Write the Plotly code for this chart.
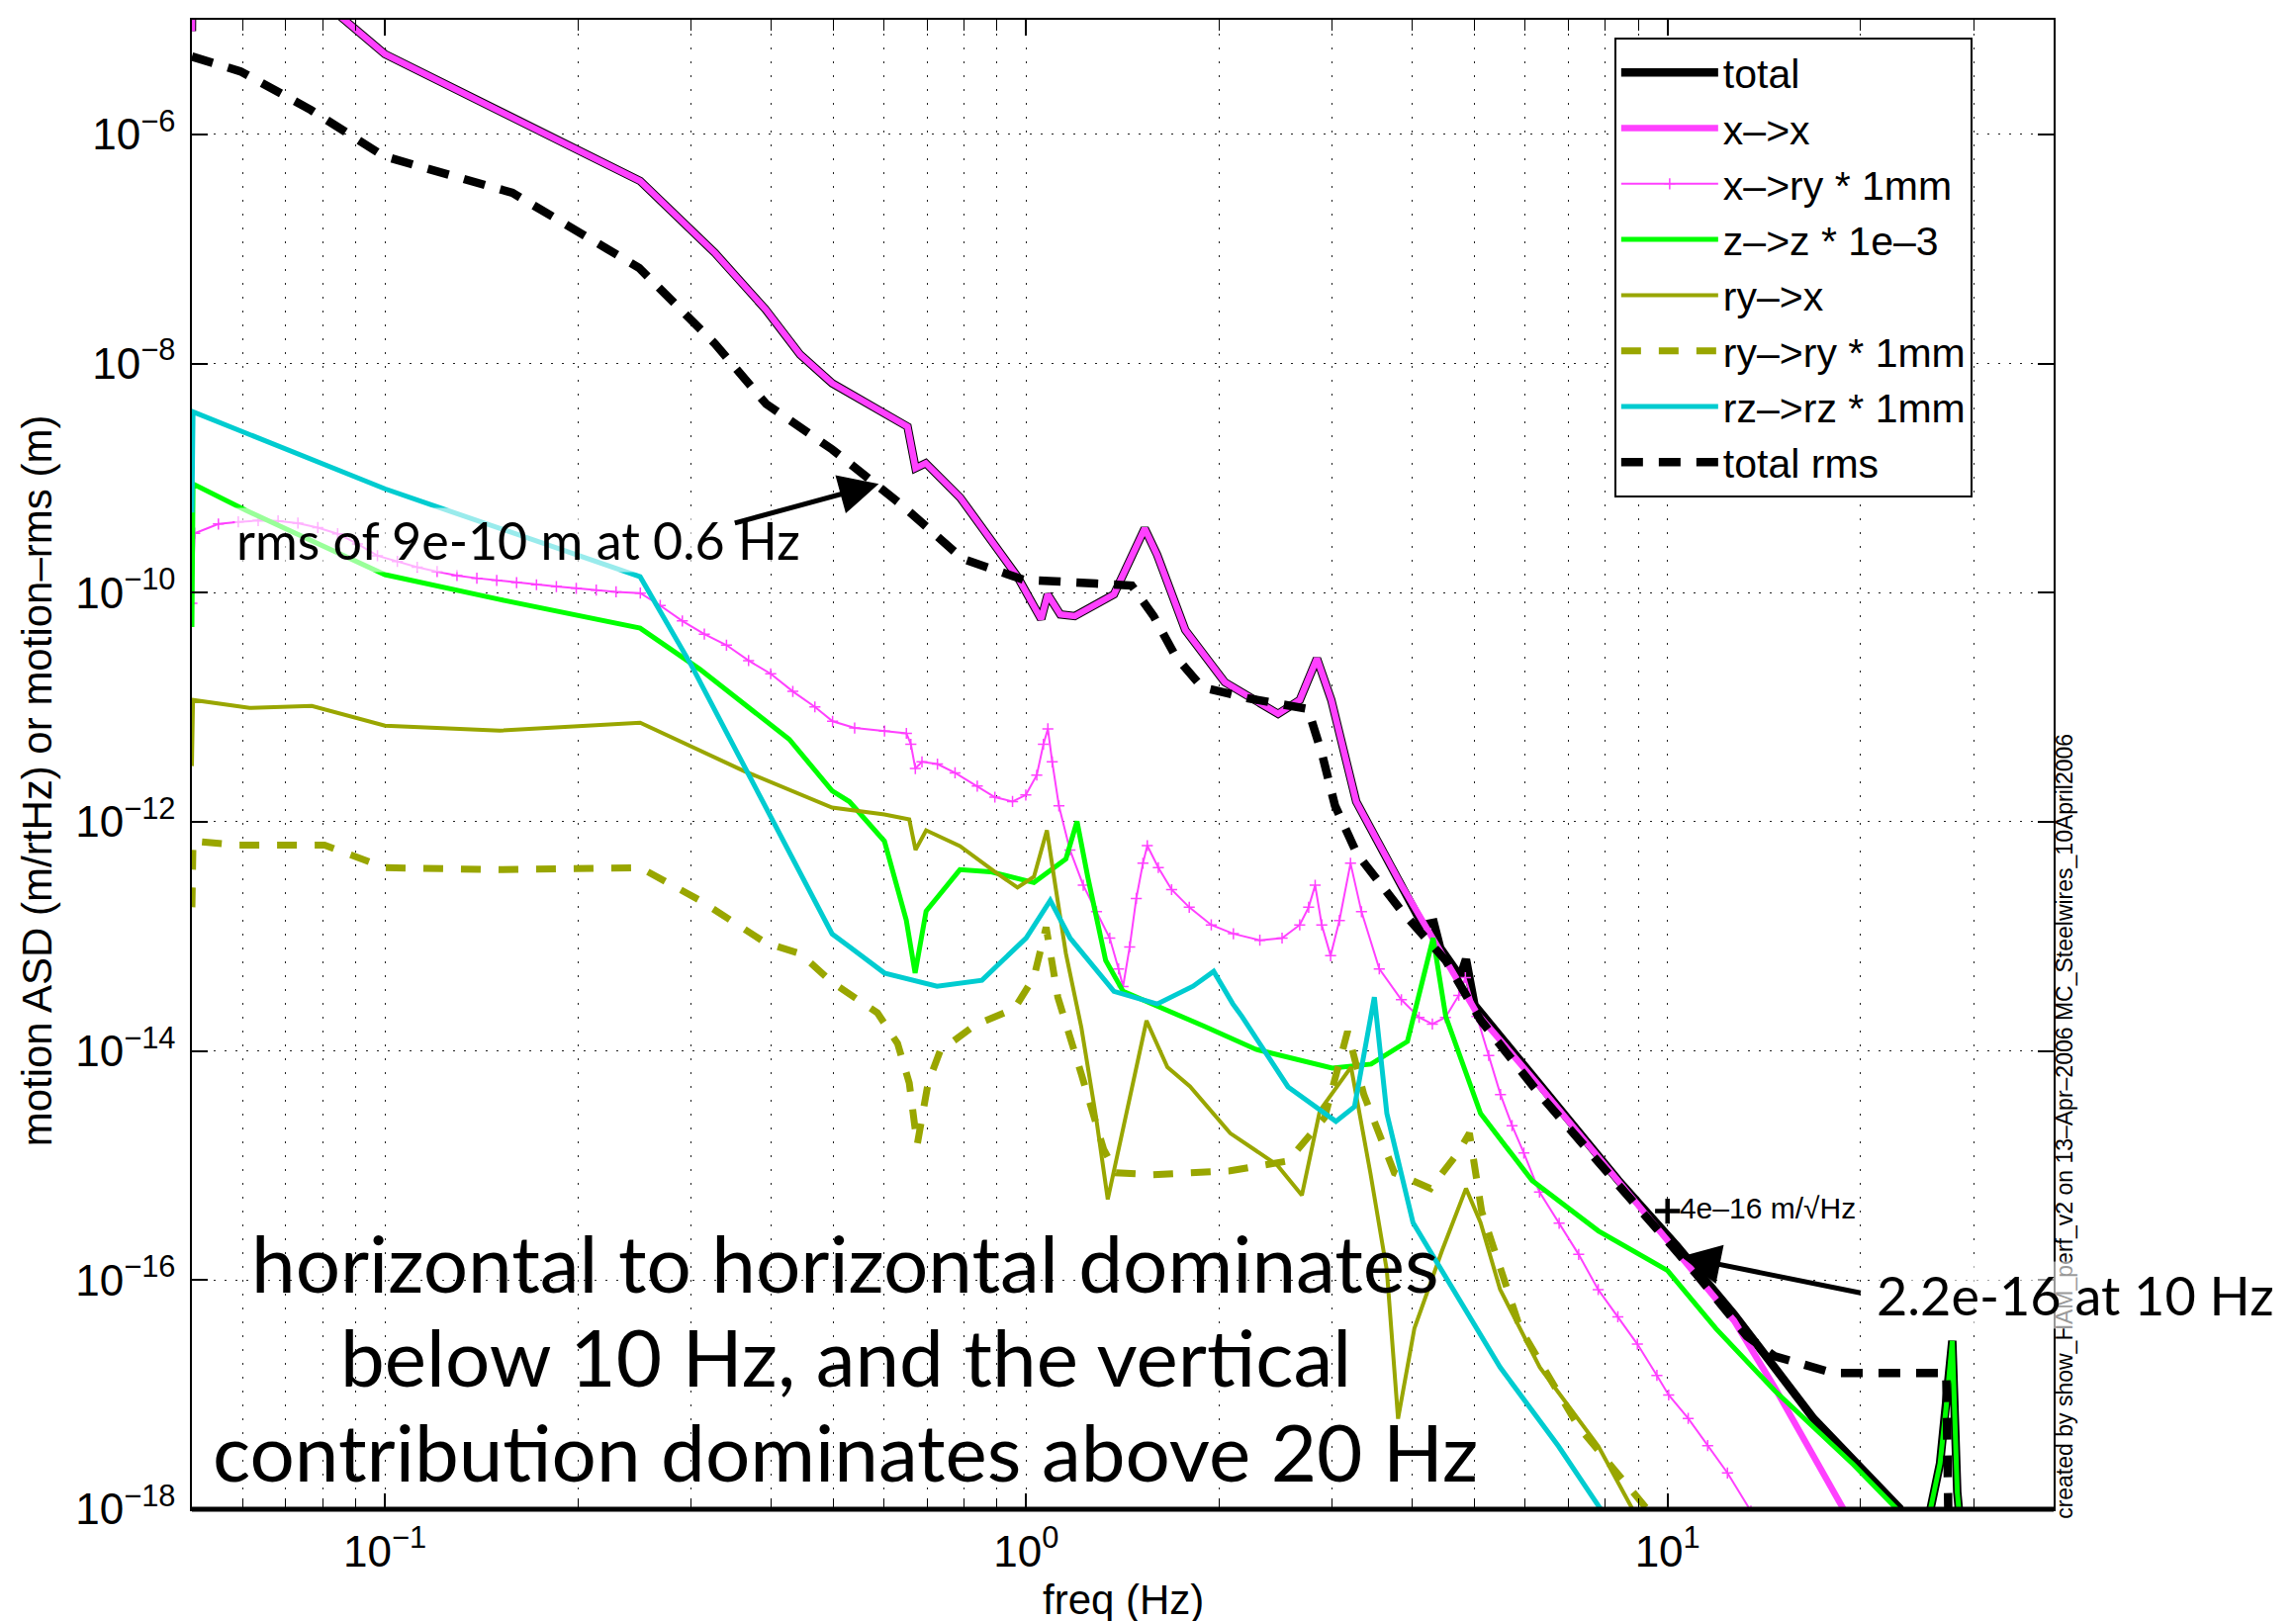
import plotly.graph_objects as go

# ---------------- data: frequency (Hz) and log10 of amplitude ----------------
total_f = [0.05, 0.0502, 0.1, 0.25, 0.327, 0.392, 0.444, 0.498, 0.653, 0.672, 0.697, 0.789, 0.969,
           1.055, 1.08, 1.13, 1.19, 1.37, 1.53, 1.60, 1.77, 2.04, 2.47, 2.67, 2.84, 2.99, 3.27, 3.85,
           4.15, 4.32, 4.42, 4.75, 4.85, 5.0, 6.33, 8.38, 10.33, 12.7, 16.9, 19.5, 23.0, 24.3,
           25.7, 26.6, 27.2, 27.8, 28.3, 29.0]
total_lg = [-5.10, -3.88, -5.30, -6.407, -7.035, -7.526, -7.922, -8.172, -8.551, -8.913, -8.870, -9.171, -9.861,
            -10.231, -10.015, -10.19, -10.205, -10.015, -9.44, -9.67, -10.326, -10.782, -11.058, -10.937, -10.575,
            -10.937, -11.824, -12.557, -12.90, -12.88, -13.10, -13.35, -13.20, -13.60, -14.31, -15.13, -15.70,
            -16.30, -17.21, -17.58, -17.99, -18.5, -18.0, -17.6, -17.1, -16.53, -17.85, -18.5]

xx_f = [0.05, 0.0502, 0.1, 0.25, 0.327, 0.392, 0.444, 0.498, 0.653, 0.672, 0.697, 0.789, 0.969,
        1.055, 1.08, 1.13, 1.19, 1.37, 1.53, 1.60, 1.77, 2.04, 2.47, 2.67, 2.84, 2.99, 3.27, 3.85,
        4.30, 5.04, 6.33, 8.38, 10.33, 12.7, 14.7, 18.9, 20.0]
xx_lg = [-5.10, -3.88, -5.30, -6.407, -7.035, -7.526, -7.922, -8.172, -8.551, -8.913, -8.870, -9.171, -9.861,
         -10.231, -10.015, -10.19, -10.205, -10.015, -9.44, -9.67, -10.326, -10.782, -11.058, -10.937, -10.575,
         -10.937, -11.824, -12.557, -13.013, -13.667, -14.314, -15.132, -15.743, -16.355, -16.94, -18.02, -18.2]

xry_f = [0.05, 0.0505, 0.05499, 0.05906, 0.06343, 0.06813, 0.07316, 0.07858, 0.08438, 0.09062, 0.09734,
         0.10455, 0.11228, 0.1206, 0.12951, 0.13909, 0.14938, 0.16043, 0.1723, 0.18505, 0.19873, 0.21352,
         0.22929, 0.25014, 0.26866, 0.29087, 0.3148, 0.34083, 0.36898, 0.39948, 0.43251, 0.46817, 0.49888,
         0.54, 0.60117, 0.6503, 0.6608, 0.6715, 0.6877, 0.727, 0.7744, 0.8387, 0.8934, 0.9519, 0.9984,
         1.0385, 1.0636, 1.0807, 1.0977, 1.1244, 1.17, 1.2272, 1.2869, 1.3496, 1.393, 1.4156, 1.4497,
         1.4845, 1.5204, 1.5444, 1.6068, 1.6852, 1.7955, 1.9431, 2.1039, 2.3135, 2.5056, 2.6695, 2.7563,
         2.8216, 2.8894, 2.9826, 3.0784, 3.2036, 3.3323, 3.5524, 3.8454, 4.098, 4.298, 4.5047, 4.7254,
         4.839, 5.043, 5.262, 5.489, 5.722, 5.97, 6.315, 6.776, 7.268, 7.796, 8.366, 8.974, 9.625,
         10.04, 10.77, 11.55, 12.4, 13.49]
xry_lg = [-10.093, -9.482, -9.4005, -9.382, -9.371, -9.374, -9.393, -9.432, -9.486, -9.574, -9.678,
          -9.728, -9.778, -9.816, -9.851, -9.874, -9.893, -9.912, -9.931, -9.947, -9.962, -9.978,
          -9.993, -10.004, -10.112, -10.247, -10.362, -10.458, -10.593, -10.708, -10.862, -10.997, -11.123,
          -11.181, -11.208, -11.228, -11.323, -11.535, -11.477, -11.496, -11.573, -11.688, -11.785, -11.823, -11.766,
          -11.593, -11.323, -11.189, -11.477, -11.861, -12.246, -12.554, -12.785, -13.015, -13.284, -13.438, -13.092,
          -12.669, -12.362, -12.208, -12.4, -12.592, -12.746, -12.9, -12.977, -13.034, -13.015, -12.9, -12.746,
          -12.554, -12.9, -13.169, -12.861, -12.362, -12.785, -13.284, -13.553, -13.707, -13.765, -13.707, -13.515,
          -13.361, -13.699, -14.04, -14.38, -14.652, -14.891, -15.232, -15.504, -15.776, -16.083, -16.32, -16.559,
          -16.832, -17.003, -17.207, -17.445, -17.683, -18.017]

zz_f = [0.05, 0.0502, 0.0606, 0.1, 0.151, 0.25, 0.31, 0.427, 0.498, 0.53, 0.601, 0.65, 0.671, 0.698,
        0.788, 0.879, 1.028, 1.153, 1.2, 1.247, 1.33, 1.416, 1.90, 2.28, 3.0, 3.45, 3.93, 4.31, 4.51,
        5.11, 6.15, 7.80, 10.0, 11.9, 14.7, 19.5, 22.7, 24.0, 25.7, 26.6, 27.2, 27.8, 28.3, 29.0]
zz_lg = [-10.3, -9.051, -9.28, -9.843, -10.06, -10.31, -10.67, -11.28, -11.73, -11.824, -12.169, -12.858,
         -13.32, -12.78, -12.418, -12.436, -12.53, -12.324, -11.997, -12.479, -13.21, -13.48, -13.788, -13.986,
         -14.15, -14.115, -13.917, -13.013, -13.70, -14.546, -15.132, -15.571, -15.916, -16.424, -16.966,
         -17.612, -17.99, -18.4, -18.0, -17.6, -17.1, -16.53, -17.85, -18.5]

ryx_f = [0.05, 0.0502, 0.0615, 0.0769, 0.1, 0.151, 0.25, 0.363, 0.498, 0.601, 0.657, 0.672, 0.698,
         0.788, 0.893, 0.969, 1.028, 1.077, 1.11, 1.153, 1.219, 1.285, 1.34, 1.54, 1.66, 1.80, 2.08,
         2.46, 2.69, 2.87, 3.21, 3.44, 3.65, 3.80, 4.03, 4.45, 4.85, 5.11, 5.48, 6.32, 7.80, 8.86]
ryx_lg = [-11.514, -10.937, -11.006, -10.989, -11.161, -11.204, -11.135, -11.557, -11.876, -11.936,
          -11.979, -12.246, -12.074, -12.212, -12.436, -12.574, -12.48, -12.074, -12.556, -13.15, -13.797,
          -14.58, -15.295, -13.736, -14.141, -14.31, -14.718, -14.994, -15.26, -14.52, -14.141, -15.063,
          -15.916, -17.21, -16.42, -15.743, -15.2, -15.498, -16.08, -16.76, -17.45, -18.02]

ryry_f = [0.05, 0.0502, 0.0588, 0.0805, 0.1, 0.151, 0.25, 0.31, 0.392, 0.444, 0.498, 0.586, 0.63,
          0.657, 0.676, 0.703, 0.734, 0.834, 0.958, 1.028, 1.074, 1.12, 1.22, 1.32, 1.38, 1.57, 2.08,
          2.56, 2.92, 3.17, 3.36, 3.75, 4.27, 4.71, 4.91, 5.13, 5.89, 7.26, 9.36]
ryry_lg = [-12.746, -12.169, -12.203, -12.203, -12.4, -12.418, -12.4, -12.686, -13.056, -13.15, -13.4,
           -13.667, -13.935, -14.28, -14.82, -14.28, -14.0, -13.77, -13.633, -13.357, -12.92, -13.53, -14.21,
           -14.856, -15.063, -15.08, -15.046, -14.96, -14.58, -13.83, -14.38, -15.063, -15.2, -14.89, -14.718,
           -15.4, -16.42, -17.277, -18.02]

rzrz_f = [0.05, 0.0502, 0.1, 0.25, 0.30, 0.363, 0.427, 0.498, 0.53, 0.601, 0.726, 0.853, 1.0, 1.09,
          1.17, 1.37, 1.60, 1.82, 1.96, 2.10, 2.17, 2.56, 3.04, 3.25, 3.49, 3.65, 4.01, 4.45, 5.48, 6.76, 7.91]
rzrz_lg = [-9.3, -8.422, -9.094, -9.861, -10.627, -11.514, -12.28, -12.978, -13.09, -13.32, -13.435, -13.383,
           -13.013, -12.686, -13.013, -13.48, -13.59, -13.435, -13.306, -13.59, -13.70, -14.314, -14.615,
           -14.486, -13.53, -14.546, -15.5, -15.916, -16.76, -17.45, -18.02]

rms_f = [0.05, 0.0595, 0.0766, 0.0996, 0.158, 0.249, 0.327, 0.393, 0.498, 0.641, 0.796, 0.989, 1.285,
         1.46, 1.58, 1.71, 1.88, 2.21, 2.75, 2.89, 3.03, 3.28, 3.85, 4.51, 5.11, 6.32, 8.37, 11.1, 13.3,
         14.7, 18.1, 27.2, 27.5]
rms_lg = [-5.321, -5.45, -5.786, -6.191, -6.51, -7.165, -7.828, -8.353, -8.749, -9.24, -9.705, -9.886,
          -9.921, -9.938, -10.205, -10.558, -10.825, -10.92, -11.015, -11.402, -11.859, -12.28, -12.78,
          -13.21, -13.73, -14.38, -15.166, -15.95, -16.49, -16.665, -16.81, -16.81, -18.6]

ref_f = [10.0]
ref_val = [4e-16]
ref_label = ["4e\u201316 m/\u221aHz"]

x_ticks = [0.1, 1, 10]
x_ticktext = ["10<sup>\u22121</sup>", "10<sup>0</sup>", "10<sup>1</sup>"]
x_minor = [0.06, 0.07, 0.08, 0.09, 0.2, 0.3, 0.4, 0.5, 0.6, 0.7, 0.8, 0.9,
           2, 3, 4, 5, 6, 7, 8, 9, 20, 30]
y_exps = [-18, -16, -14, -12, -10, -8, -6]


def lin(lg):
    return [10 ** v for v in lg]


MAG = "#ff40ff"
GRN = "#00ff00"
OLV = "#99a600"
CYN = "#00ccd0"
FONT = "Liberation Sans"

fig = go.Figure()
fig.add_trace(go.Scatter(x=total_f, y=lin(total_lg), mode="lines", name="total",
                         line=dict(color="black", width=8.5)))
fig.add_trace(go.Scatter(x=xx_f, y=lin(xx_lg), mode="lines", name="x\u2013>x",
                         line=dict(color=MAG, width=6.5)))
fig.add_trace(go.Scatter(x=xry_f, y=lin(xry_lg), mode="lines+markers", name="x\u2013>ry * 1mm",
                         line=dict(color=MAG, width=2),
                         marker=dict(symbol="cross-thin", size=8, line=dict(color=MAG, width=1.5))))
fig.add_trace(go.Scatter(x=zz_f, y=lin(zz_lg), mode="lines", name="z\u2013>z * 1e\u20133",
                         line=dict(color=GRN, width=5)))
fig.add_trace(go.Scatter(x=ryx_f, y=lin(ryx_lg), mode="lines", name="ry\u2013>x",
                         line=dict(color=OLV, width=4)))
fig.add_trace(go.Scatter(x=ryry_f, y=lin(ryry_lg), mode="lines", name="ry\u2013>ry * 1mm",
                         line=dict(color=OLV, width=7, dash="20px,18px")))
fig.add_trace(go.Scatter(x=rzrz_f, y=lin(rzrz_lg), mode="lines", name="rz\u2013>rz * 1mm",
                         line=dict(color=CYN, width=5)))
fig.add_trace(go.Scatter(x=rms_f, y=lin(rms_lg), mode="lines", name="total rms",
                         line=dict(color="black", width=8.5, dash="22px,16px")))
fig.add_trace(go.Scatter(x=ref_f, y=ref_val, mode="markers+text", showlegend=False,
                         text=ref_label, textposition="middle right",
                         textfont=dict(family=FONT, size=30, color="black"),
                         marker=dict(symbol="cross-thin", size=18, line=dict(color="black", width=4.5))))

grid_x = dict(showgrid=True, gridcolor="#222222", gridwidth=1.3, griddash="2px,12px")
fig.update_xaxes(type="log", range=[-1.30103, 1.60206], tickvals=x_ticks, ticktext=x_ticktext,
                 ticks="inside", ticklen=16, tickwidth=1.5, tickcolor="black", ticklabelstandoff=3,
                 showline=True, linecolor="black", linewidth=1.5, mirror="ticks", zeroline=False,
                 tickfont=dict(family=FONT, size=44, color="black"),
                 minor=dict(tickvals=x_minor, ticks="inside", ticklen=11, tickwidth=1.2, tickcolor="black",
                            **grid_x),
                 **grid_x)
fig.update_yaxes(type="log", range=[-18, -5.0], tickvals=[10 ** e for e in y_exps],
                 ticktext=["10<sup>\u2212%d</sup>" % (-e) for e in y_exps],
                 ticks="inside", ticklen=16, tickwidth=1.5, tickcolor="black", ticklabelstandoff=6,
                 showline=True, linecolor="black", linewidth=1.5, mirror="ticks", zeroline=False,
                 tickfont=dict(family=FONT, size=44, color="black"),
                 showgrid=True, gridcolor="#222222", gridwidth=1.3, griddash="2px,9px")

ann = []
ann.append(dict(text="motion ASD (m/rtHz) or motion\u2013rms (m)", xref="paper", yref="paper",
                x=-0.083, y=0.489, xanchor="center", yanchor="middle", textangle=-90, showarrow=False,
                font=dict(family=FONT, size=42, color="black")))
ann.append(dict(text="freq (Hz)", xref="paper", yref="paper", x=0.5, y=-0.061,
                xanchor="center", yanchor="middle", showarrow=False,
                font=dict(family=FONT, size=42, color="black")))
ann.append(dict(text="created by show_HAM_perf_v2 on 13\u2013Apr\u20132006 MC_Steelwires_10April2006",
                xref="paper", yref="paper", x=1.0058, y=0.257, xanchor="center", yanchor="middle",
                textangle=-90, showarrow=False,
                font=dict(family=FONT, size=23, color="black")))
ann.append(dict(text="rms of 9e-10 m at 0.6 Hz", xref="paper", yref="paper", x=0.1753, y=0.6505,
                xanchor="center", yanchor="middle", showarrow=False, bgcolor="rgba(255,255,255,0.6)",
                font=dict(family="Lato", size=52, color="black")))
ann.append(dict(text="", xref="x", yref="y", x=-0.230, y=-9.051, ax=-147, ay=40, showarrow=True,
                arrowhead=2, arrowsize=1.6, arrowwidth=5, arrowcolor="black"))
ann.append(dict(text="2.2e-16 at 10 Hz", xref="paper", yref="paper", x=1.0117, y=0.1439,
                xanchor="center", yanchor="middle", showarrow=False, bgcolor="rgba(255,255,255,0.6)",
                font=dict(family="Lato", size=54, color="black")))
ann.append(dict(text="", xref="x", yref="y", x=1.021, y=-15.795, ax=183, ay=37, showarrow=True,
                arrowhead=2, arrowsize=1.6, arrowwidth=5, arrowcolor="black"))
for txt, yy in [("horizontal to horizontal dominates", 0.1658),
                ("below 10 Hz, and the vertical", 0.1028),
                ("contribution dominates above 20 Hz", 0.0392)]:
    ann.append(dict(text=txt, xref="paper", yref="paper", x=0.3512, y=yy, xanchor="center",
                    yanchor="middle", showarrow=False, font=dict(family="Lato", size=80, color="black")))

fig.update_layout(
    width=2321, height=1639,
    margin=dict(l=186, r=253, t=10, b=121),
    paper_bgcolor="white", plot_bgcolor="white",
    annotations=ann,
    shapes=[dict(type="line", xref="paper", yref="paper", x0=0, x1=1, y0=0, y1=0,
                 line=dict(color="black", width=5))],
    legend=dict(x=0.764, y=0.988, xanchor="left", yanchor="top", bgcolor="white",
                bordercolor="black", borderwidth=2, itemwidth=98, tracegroupgap=0,
                font=dict(family=FONT, size=41, color="black")),
)

fig.write_html("out.html")
